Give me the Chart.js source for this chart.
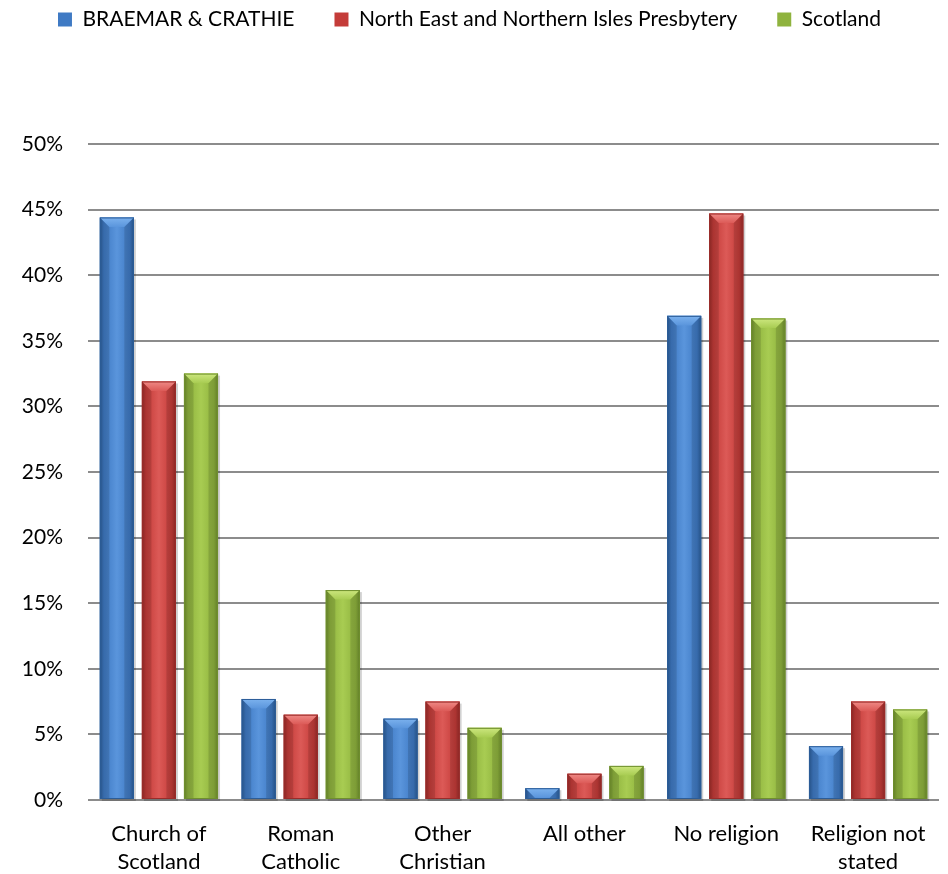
<!DOCTYPE html>
<html>
<head>
<meta charset="utf-8">
<script src="https://cdn.jsdelivr.net/npm/chart.js@4/dist/chart.umd.min.js"></script>
<style>
  html, body { margin: 0; padding: 0; background: #fff; }
  #wrap { width: 948px; height: 874px; }
</style>
</head>
<body>
<div id="wrap"><canvas id="religionChart"></canvas></div>
<script>
const categories = [['Church of', 'Scotland'], ['Roman', 'Catholic'], ['Other', 'Christian'], 'All other', 'No religion', ['Religion not', 'stated']];
const seriesNames = ['BRAEMAR & CRATHIE', 'North East and Northern Isles Presbytery', 'Scotland'];
const braemar = [44.4, 7.7, 6.2, 0.9, 36.9, 4.1];
const northEast = [31.9, 6.5, 7.5, 2.0, 44.7, 7.5];
const scotland = [32.5, 16.0, 5.5, 2.6, 36.7, 6.9];
const yTicks = [0, 5, 10, 15, 20, 25, 30, 35, 40, 45, 50];

// colours per series: [edge dark, mid, highlight, top bevel]
const palette = [
    ['#2c5d98', '#3f7ac4', '#5a95dc', '#7cb2ee'],
    ['#9a2c2a', '#c43c39', '#dc5a57', '#ef8a86'],
    ['#6f8f2e', '#8fb33e', '#a8cc52', '#cde77f']
];

const FONT = 'Lato, "Liberation Sans", sans-serif';

// glossy bevelled bars, drawn over the library's own bar elements
const bevelBars = {
    id: 'bevelBars',
    afterDatasetsDraw(chart) {
        const ctx = chart.ctx;
        chart.data.datasets.forEach((ds, i) => {
            const meta = chart.getDatasetMeta(i);
            const c = palette[i];
            meta.data.forEach(bar => {
                const w = bar.width;
                const left = bar.x - w / 2;
                const top = bar.y;
                const bottom = bar.base;
                const h = bottom - top;
                if (h <= 0) return;
                ctx.save();
                // shadow
                ctx.fillStyle = 'rgba(0,0,0,0.18)';
                ctx.fillRect(left + 2, top + 2, w, h);
                // body gradient
                const g = ctx.createLinearGradient(left, 0, left + w, 0);
                g.addColorStop(0, c[0]);
                g.addColorStop(0.12, c[1]);
                g.addColorStop(0.5, c[2]);
                g.addColorStop(0.88, c[1]);
                g.addColorStop(1, c[0]);
                ctx.fillStyle = g;
                ctx.fillRect(left, top, w, h);
                // top bevel
                const bv = Math.min(w * 0.28, h);
                const tg = ctx.createLinearGradient(0, top, 0, top + bv);
                tg.addColorStop(0, c[3]);
                tg.addColorStop(1, c[2]);
                ctx.fillStyle = tg;
                ctx.beginPath();
                ctx.moveTo(left, top);
                ctx.lineTo(left + w, top);
                ctx.lineTo(left + w - bv, top + bv);
                ctx.lineTo(left + bv, top + bv);
                ctx.closePath();
                ctx.fill();
                // side darkening at the bevel
                ctx.fillStyle = 'rgba(0,0,0,0.12)';
                ctx.beginPath();
                ctx.moveTo(left, top);
                ctx.lineTo(left + bv, top + bv);
                ctx.lineTo(left + bv, bottom);
                ctx.lineTo(left, bottom);
                ctx.closePath();
                ctx.fill();
                ctx.beginPath();
                ctx.moveTo(left + w, top);
                ctx.lineTo(left + w - bv, top + bv);
                ctx.lineTo(left + w - bv, bottom);
                ctx.lineTo(left + w, bottom);
                ctx.closePath();
                ctx.fill();
                // outline
                ctx.strokeStyle = c[0];
                ctx.lineWidth = 1;
                ctx.strokeRect(left + 0.5, top + 0.5, w - 1, h - 1);
                ctx.restore();
            });
        });
    }
};

// legend keeps wide item spacing but sits near the top; plot starts lower down
const LEGEND_PAD = 40;
const legendGap = {
    id: 'legendGap',
    beforeInit(chart) {
        const origFit = chart.legend.fit;
        chart.legend.fit = function () {
            origFit.bind(chart.legend)();
            this.height = 144;
        };
    },
    afterLayout(chart) {
        const lg = chart.legend;
        const shift = LEGEND_PAD - 9;
        lg.top -= shift;
        lg.bottom -= shift;
    }
};

function renderChart() {
    const ctx = document.getElementById('religionChart').getContext('2d');
    new Chart(ctx, {
        type: 'bar',
        data: {
            labels: categories,
            datasets: [braemar, northEast, scotland].map((vals, i) => ({
                label: seriesNames[i],
                data: vals,
                backgroundColor: palette[i][1],
                borderColor: palette[i][0],
                borderWidth: 0
            }))
        },
        options: {
            responsive: true,
            maintainAspectRatio: false,
            animation: false,
            layout: { padding: { left: 0, right: 9, top: 0, bottom: 0 } },
            datasets: {
                bar: { categoryPercentage: 0.89, barPercentage: 0.81 }
            },
            plugins: {
                legend: {
                    position: 'top',
                    labels: {
                        boxWidth: 14,
                        boxHeight: 14,
                        padding: LEGEND_PAD,
                        color: '#000',
                        font: { family: FONT, size: 21 }
                    }
                },
                tooltip: { enabled: false }
            },
            scales: {
                x: {
                    grid: { display: false },
                    border: { display: false },
                    ticks: {
                        color: '#000',
                        padding: 12,
                        maxRotation: 0,
                        autoSkip: false,
                        font: { family: FONT, size: 22, lineHeight: 1.27 }
                    },
                    afterFit(scale) { scale.height = 74; }
                },
                y: {
                    min: 0,
                    max: 50,
                    afterBuildTicks(scale) { scale.ticks = yTicks.map(v => ({ value: v })); },
                    grid: { color: '#8c8c8c', lineWidth: 2, drawTicks: false },
                    border: { display: false },
                    ticks: {
                        color: '#000',
                        padding: 25,
                        font: { family: FONT, size: 21 },
                        callback: v => v + '%'
                    },
                    afterFit(scale) { scale.width = 88; }
                }
            }
        },
        plugins: [legendGap, bevelBars]
    });
}

renderChart();
</script>
</body>
</html>
